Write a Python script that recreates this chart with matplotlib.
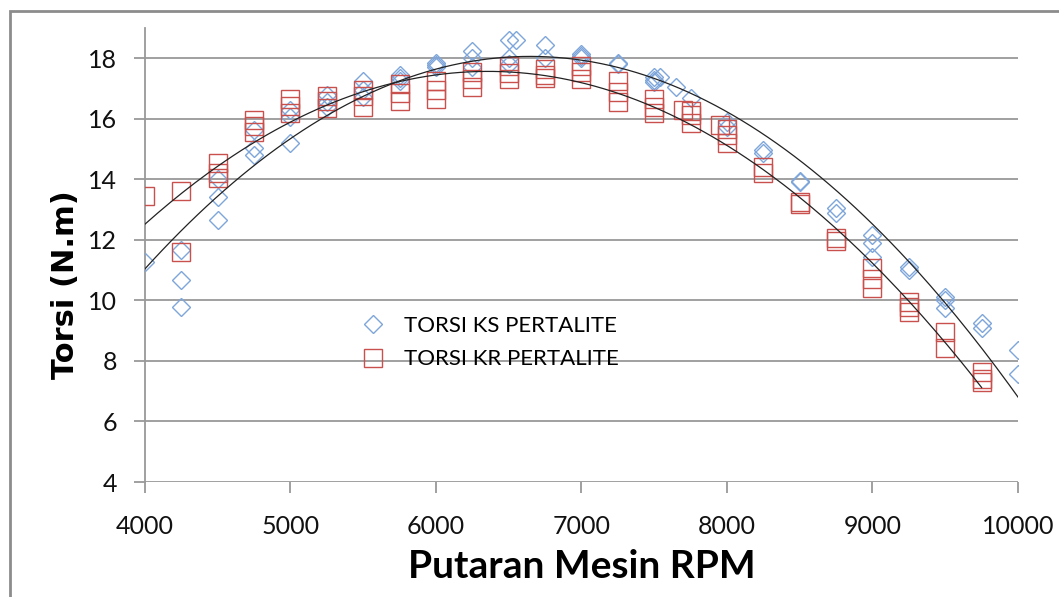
import numpy as np
import matplotlib.pyplot as plt
from matplotlib.patches import Rectangle

# data
ks_rpm = [4000, 4250, 4250, 4250, 4500, 4500, 4500, 4750, 4750, 4750,
          5000, 5000, 5000, 5250, 5250, 5250, 5500, 5500, 5500, 5750, 5750, 5750,
          6000, 6000, 6000, 6250, 6250, 6250, 6500, 6500, 6500, 6550, 6750, 6750,
          7000, 7000, 7000, 7250, 7250, 7500, 7500, 7500, 7540, 7650, 7750,
          8000, 8000, 8250, 8250, 8500, 8500, 8750, 8750, 9000, 9000, 9000,
          9250, 9250, 9500, 9500, 9500, 9750, 9750, 10000, 10000]
ks_torsi = [11.27, 11.66, 10.67, 9.78, 14.0, 13.41, 12.67, 15.62, 15.03, 14.8,
            16.3, 16.05, 15.2, 16.78, 16.55, 16.4, 17.25, 16.94, 16.71, 17.44, 17.34, 17.25,
            17.85, 17.77, 17.7, 18.25, 18.0, 17.7, 18.6, 18.0, 17.8, 18.62, 18.43, 18.0,
            18.15, 18.08, 18.0, 17.83, 17.8, 17.37, 17.27, 17.2, 17.37, 17.04, 16.68,
            15.89, 15.72, 14.96, 14.86, 13.94, 13.9, 13.05, 12.88, 12.16, 11.9, 11.45,
            11.1, 11.0, 10.11, 10.0, 9.75, 9.25, 9.09, 8.36, 7.57]

kr_rpm = [4000, 4250, 4250, 4500, 4500, 4500, 4750, 4750, 4750,
          5000, 5000, 5000, 5250, 5250, 5250, 5500, 5500, 5500, 5750, 5750, 5750,
          6000, 6000, 6000, 6250, 6250, 6250, 6500, 6500, 6500, 6750, 6750, 6750,
          7000, 7000, 7000, 7250, 7250, 7250, 7500, 7500, 7500, 7700, 7750, 7750, 7750,
          7950, 8000, 8000, 8000, 8250, 8250, 8500, 8500, 8750, 8750,
          9000, 9000, 9000, 9250, 9250, 9250, 9500, 9500, 9750, 9750, 9750]
kr_torsi = [13.45, 13.6, 11.6, 14.53, 14.2, 14.05, 15.95, 15.75, 15.56,
            16.65, 16.42, 16.19, 16.75, 16.6, 16.35, 16.94, 16.75, 16.4, 17.15, 16.85, 16.6,
            17.25, 16.94, 16.65, 17.54, 17.3, 17.05, 17.75, 17.5, 17.3, 17.65, 17.44, 17.34,
            17.75, 17.55, 17.3, 17.25, 16.9, 16.55, 16.65, 16.38, 16.18, 16.3, 16.25, 16.12, 15.86,
            15.79, 15.65, 15.46, 15.2, 14.4, 14.2, 13.25, 13.2, 12.05, 11.95,
            11.07, 10.7, 10.41, 9.95, 9.78, 9.62, 8.96, 8.43, 7.64, 7.4, 7.3]

xticks = [4000, 5000, 6000, 7000, 8000, 9000, 10000]
yticks = [4, 6, 8, 10, 12, 14, 16, 18]

W, H = 1059, 597
fig = plt.figure(figsize=(W / 100, H / 100), dpi=100)
ax = fig.add_axes([145 / W, 1 - 482 / H, (1018 - 145) / W, (482 - 28) / H])

ax.plot(ks_rpm, ks_torsi, linestyle='none', marker='D', ms=9.5, mfc='none',
        mec='#7FA6DA', mew=1.0, label='TORSI KS PERTALITE', zorder=3)
ax.plot(kr_rpm, kr_torsi, linestyle='none', marker='s', ms=13.5, mfc='none',
        mec='#C8504D', mew=1.0, label='TORSI KR PERTALITE', zorder=3)

# polynomial (order 2) trendlines
for x, y in [(ks_rpm, ks_torsi), (kr_rpm, kr_torsi)]:
    c = np.polyfit(x, y, 2)
    xs = np.linspace(min(x), max(x), 200)
    ax.plot(xs, np.polyval(c, xs), color='#222222', lw=0.9, zorder=4)

ax.set_xlim(4000, 10000)
ax.set_ylim(4, 19)
ax.set_xticks(xticks)
ax.set_yticks(yticks)
ax.grid(axis='y', color='#999999', lw=1.3)
ax.set_axisbelow(True)
for s in ['top', 'right', 'bottom']:
    ax.spines[s].set_visible(False)
ax.spines['left'].set_color('#999999')
ax.spines['left'].set_linewidth(1.3)
ax.tick_params(axis='both', colors='#999999', width=1.3, length=8, labelcolor='#111111',
               labelsize=18)
ax.tick_params(axis='x', pad=16)
ax.tick_params(axis='y', pad=12)
for lab in ax.get_xticklabels() + ax.get_yticklabels():
    lab.set_family('Lato')

leg = ax.legend(loc='upper left', bbox_to_anchor=(186 / 873, (482 - 296) / 454), frameon=False,
                prop={'family': 'Lato', 'size': 16}, handletextpad=0.4, labelspacing=0.6)

fig.text(582 / W, 1 - 566 / H, 'Putaran Mesin RPM', ha='center', va='center',
         fontsize=28, fontweight='bold', family='Lato')
fig.text(66 / W, 1 - 285 / H, 'Torsi (N.m)', ha='center', va='center', rotation=90,
         fontsize=22, fontweight='bold', family='DejaVu Sans')

# outer border (only top and left visible in the original)
fig.patches.append(Rectangle((10 / W, -0.1), 2, 1.1 - 11 / H, transform=fig.transFigure,
                             fill=False, edgecolor='#8C8C8C', lw=2))

fig.savefig('out.png', dpi=100)
